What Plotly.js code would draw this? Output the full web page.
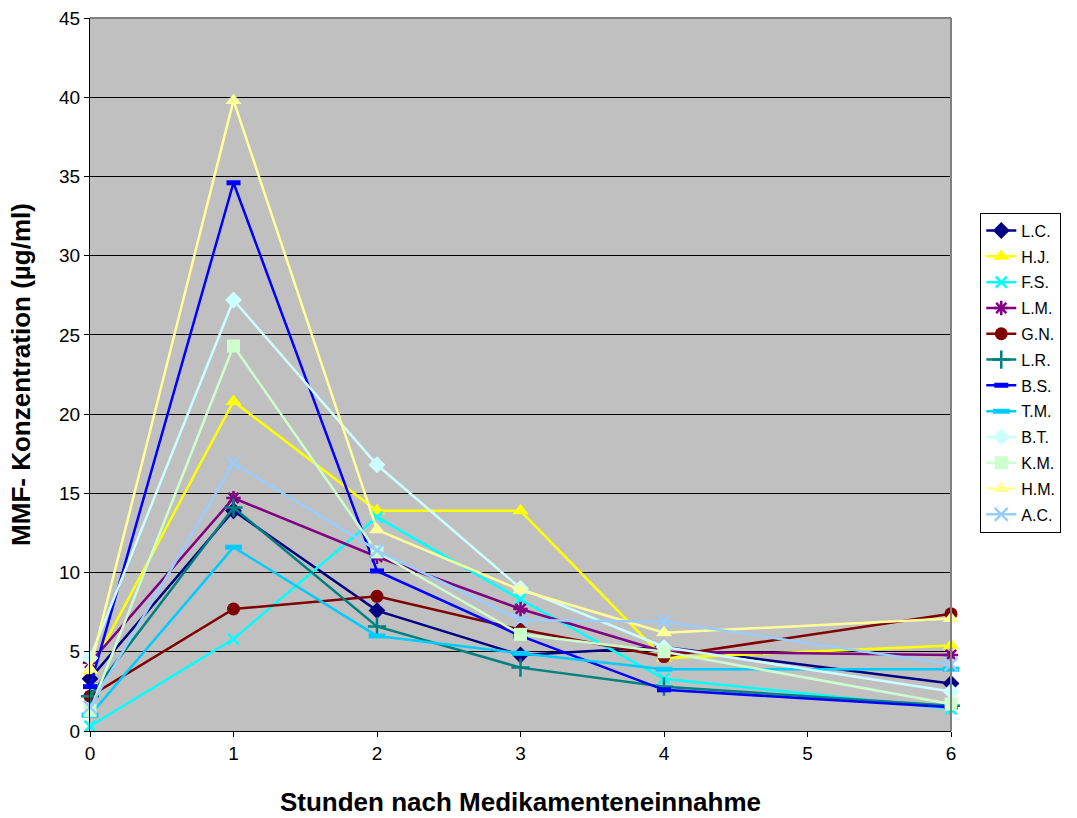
<!DOCTYPE html>
<html>
<head>
<meta charset="utf-8">
<script src="https://cdn.plot.ly/plotly-3.0.1.min.js"></script>
<style>
html,body{margin:0;padding:0;background:#fff;}
#chart{width:1077px;height:818px;}
</style>
</head>
<body>
<div id="chart"></div>
<script>
// Hours after intake
const hours = [0, 1, 2, 3, 4, 6];

// MMF concentration (µg/ml) per patient
const LC = [3.3, 13.9, 7.6, 4.8, 5.3, 3.0];
const HJ = [3.8, 20.8, 13.9, 13.9, 4.6, 5.4];
const FS = [0.3, 5.8, 13.5, 8.3, 3.3, 1.4];
const LM = [4.3, 14.7, 11.0, 7.7, 5.0, 4.8];
const GN = [2.2, 7.7, 8.5, 6.4, 4.7, 7.4];
const LR = [2.2, 14.1, 6.6, 4.0, 2.8, 1.6];
const BS = [2.8, 34.6, 10.1, 6.0, 2.6, 1.5];
const TM = [1.0, 11.6, 6.0, 4.9, 3.9, 3.9];
const BT = [4.6, 27.2, 16.8, 9.0, 5.3, 2.5];
const KM = [1.3, 24.3, 11.3, 6.1, 5.0, 1.7];
const HM = [3.9, 39.8, 12.7, 8.9, 6.2, 7.1];
const AC = [1.5, 16.9, 11.4, 7.0, 6.9, 4.2];

const names = ["L.C.", "H.J.", "F.S.", "L.M.", "G.N.", "L.R.", "B.S.", "T.M.", "B.T.", "K.M.", "H.M.", "A.C."];
const series = [LC, HJ, FS, LM, GN, LR, BS, TM, BT, KM, HM, AC];
const colors = ["#000080", "#FFFF00", "#00FFFF", "#800080", "#800000", "#008080", "#0000FF", "#00CCFF", "#CCFFFF", "#CCFFCC", "#FFFF99", "#99CCFF"];

const markerStyles = [
  {symbol: "diamond", size: 13},
  {symbol: "triangle-up", size: 14},
  {symbol: "x-thin-open", size: 11, lw: 2.5},
  {symbol: "asterisk-open", size: 12, lw: 2.5},
  {symbol: "circle", size: 13},
  {symbol: "cross-thin-open", size: 13, lw: 2.5},
  {symbol: "line-ew-open", size: 10, lw: 5},
  {symbol: "line-ew-open", size: 12, lw: 5},
  {symbol: "diamond", size: 13},
  {symbol: "square", size: 13},
  {symbol: "triangle-up", size: 14},
  {symbol: "x-thin-open", size: 13, lw: 2.5}
];

const traces = series.map((vals, i) => {
  const ms = markerStyles[i];
  const m = {symbol: ms.symbol, size: ms.size, color: colors[i]};
  if (ms.lw) m.line = {color: colors[i], width: ms.lw};
  else m.line = {width: 0};
  return {
    x: hours, y: vals, name: names[i], type: "scatter", mode: "lines+markers",
    line: {color: colors[i], width: 2.5}, marker: m, cliponaxis: false,
    legendgroup: "g" + i
  };
});

const layout = {
  width: 1077, height: 818,
  margin: {l: 90, r: 126, t: 18, b: 87},
  paper_bgcolor: "#ffffff",
  plot_bgcolor: "#C0C0C0",
  font: {family: "Liberation Sans, Arial, sans-serif", color: "#000"},
  showlegend: true,
  legend: {
    x: 1.034, xanchor: "left", y: 0.727, yanchor: "top",
    bgcolor: "#ffffff", bordercolor: "#000000", borderwidth: 1,
    font: {size: 16, color: "#000"}, tracegroupgap: 2
  },
  xaxis: {
    range: [0, 6], tickvals: [0, 1, 2, 3, 4, 5, 6],
    showgrid: false, zeroline: false,
    showline: true, linecolor: "#000", linewidth: 1,
    ticks: "outside", ticklen: 5, tickcolor: "#000",
    tickfont: {size: 19},
    title: {text: "Stunden nach Medikamenteneinnahme", font: {size: 26, family: "Liberation Sans, Arial, sans-serif"}, standoff: 30}
  },
  yaxis: {
    range: [0, 45], dtick: 5,
    showgrid: true, gridcolor: "#000", gridwidth: 1, zeroline: false,
    showline: true, linecolor: "#000", linewidth: 1,
    ticks: "outside", ticklen: 5, tickcolor: "#000",
    tickfont: {size: 19},
    title: {text: "MMF- Konzentration (µg/ml)", font: {size: 26, family: "Liberation Sans, Arial, sans-serif"}, standoff: 20}
  },
  shapes: [
    {type: "line", xref: "paper", yref: "paper", x0: 0, x1: 1, y0: 1, y1: 1, line: {color: "#808080", width: 2}},
    {type: "line", xref: "paper", yref: "paper", x0: 1, x1: 1, y0: 0, y1: 1, line: {color: "#808080", width: 2}}
  ]
};

Plotly.newPlot("chart", traces, layout, {displayModeBar: false, staticPlot: true}).then(() => {
  document.querySelectorAll(".g-xtitle text, .g-ytitle text").forEach(t => t.style.fontWeight = "bold");
});
</script>
</body>
</html>
